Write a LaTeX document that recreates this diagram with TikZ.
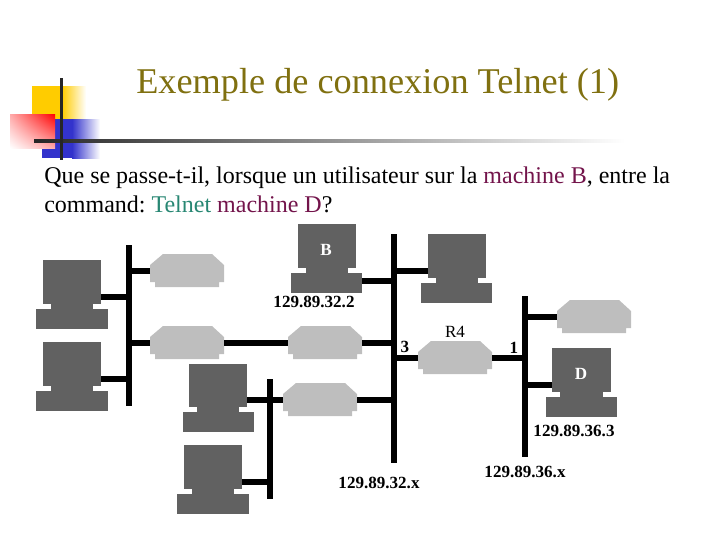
\documentclass[tikz,border=0pt]{standalone}
\usepackage{fontspec}
\usetikzlibrary{shadings}
\setmainfont{Liberation Serif}
\frenchspacing
\definecolor{titleol}{RGB}{128,112,16}
\definecolor{plum}{RGB}{115,20,75}
\definecolor{tealc}{RGB}{40,135,115}
\definecolor{compgray}{RGB}{97,97,97}
\definecolor{routgray}{RGB}{190,190,190}
\definecolor{decoyel}{RGB}{255,204,0}
\definecolor{decoblu}{RGB}{51,51,204}
\definecolor{decored}{RGB}{255,0,0}
\definecolor{decopink}{RGB}{255,170,170}
\tikzset{
  px/.style={x=0.75pt,y=-0.75pt},
  wire/.style={draw=black,line width=4.5pt},
  computer/.style={fill=compgray},
  router/.style={fill=routgray},
  lab/.style={font=\bfseries\fontsize{12.8}{15}\selectfont,inner sep=0pt},
  labw/.style={font=\bfseries\fontsize{12.8}{15}\selectfont,inner sep=0pt,text=white},
  ghost/.style={inner sep=0pt,outer sep=0pt,draw=none}
}
\newcommand{\compu}[8]{% name, monitor l,r,t,b ; base l,r,b
  \fill[computer] (#2,#4) rectangle (#3,#5);
  \fill[computer] ({#2+8},#5) rectangle ({#3-8},{#5+5});
  \fill[computer] (#6,{#5+5}) rectangle (#7,#8);
}
\newcommand{\rout}[3]{% name, left, top
  \fill[router] ({#2+13},#3) -- ({#2+62},#3) -- ({#2+74},{#3+11}) -- ({#2+74},{#3+28}) -- ({#2+69},{#3+28}) -- ({#2+69},{#3+33}) -- ({#2+5},{#3+33}) -- ({#2+5},{#3+28}) -- ({#2},{#3+28}) -- ({#2},{#3+11}) -- cycle;
  \node[ghost,minimum width=55.5pt,minimum height=25.5pt] (#1) at ({#2+37},{#3+17}) {};
}
\begin{document}
\begin{tikzpicture}[px]
\useasboundingbox (0,0) rectangle (720,540);
% decoration
\fill[decoyel] (32,86) rectangle (62,119);
\shade[left color=decoyel,right color=white] (62,86) rectangle (86,119);
\fill[decoblu] (42,119) rectangle (72,158);
\shade[left color=decoblu,right color=white] (72,119) rectangle (100,158);
\shade[shading=bilinear interpolation,lower left=white,lower right=decopink,upper left=decopink,upper right=decored] (10,148) rectangle (55,114);
\shade[left color=black!85,right color=white] (34,139.5) rectangle (625,142.5);
\fill[black!85] (59.5,78) rectangle (62.5,160);
% title and body
\node[anchor=base west,inner sep=0pt,text=titleol,font=\fontsize{27.2}{32}\selectfont] (title) at (136,93) {Exemple de connexion Telnet (1)};
\node[anchor=base west,inner sep=0pt,font=\fontsize{18}{22}\selectfont] (l1) at (44,183) {Que se passe-t-il, lorsque un utilisateur sur la \textcolor{plum}{machine B}, entre la};
\node[anchor=base west,inner sep=0pt,font=\fontsize{18}{22}\selectfont] (l2) at (44,212) {command: \textcolor{tealc}{Telnet} \textcolor{plum}{machine D}?};
% computers
\compu{c1}{43}{101}{260}{304}{36}{108}{329}
\compu{c2}{43}{101}{342}{386}{36}{108}{411}
\compu{c3}{189}{247}{364}{407}{183}{254}{432}
\compu{c4}{184}{242}{445}{489}{177}{249}{514}
\compu{cB}{298}{356}{224}{268}{291}{362}{293}
\compu{cT}{428}{486}{234}{278}{421}{492}{303}
\compu{cD}{552}{611}{348}{392}{546}{617}{417}
% routers
\rout{r1}{150}{254}
\rout{r2}{150}{326}
\rout{r3}{288}{326}
\rout{r4}{283}{383}
\rout{r5}{418}{341}
\rout{r6}{557}{300}
% bus ends and computer ports
\coordinate (b1t) at (129,245); \coordinate (b1b) at (129,406);
\coordinate (b2t) at (270,379); \coordinate (b2b) at (270,499);
\coordinate (b3t) at (394,234); \coordinate (b3b) at (394,463);
\coordinate (b4t) at (525,296); \coordinate (b4b) at (525,457);
\coordinate (p1) at (101,297);
\coordinate (p2) at (101,379);
\coordinate (p3) at (247,400);
\coordinate (p4) at (242,482);
\coordinate (pB) at (362,281);
\coordinate (pT) at (428,271);
\coordinate (pD) at (552,385);
% wires
\draw[wire] (b1t) -- (b1b);
\draw[wire] (b2t) -- (b2b);
\draw[wire] (b3t) -- (b3b);
\draw[wire] (b4t) -- (b4b);
\draw[wire] (p1) -- (p1 -| b1t);
\draw[wire] (p2) -- (p2 -| b1t);
\draw[wire] (r1.west) -- (r1.west -| b1t);
\draw[wire] (r2.west) -- (r2.west -| b1t);
\draw[wire] (r2.east) -- (r3.west);
\draw[wire] (r3.east) -- (r3.east -| b3t);
\draw[wire] (p3) -- (r4.west);
\draw[wire] (r4.east) -- (r4.east -| b3t);
\draw[wire] (p4) -- (p4 -| b2t);
\draw[wire] (pB) -- (pB -| b3t);
\draw[wire] (pT) -- (pT -| b3t);
\draw[wire] (r5.west) -- (r5.west -| b3t);
\draw[wire] (r5.east) -- (r5.east -| b4t);
\draw[wire] (r6.west) -- (r6.west -| b4t);
\draw[wire] (pD) -- (pD -| b4t);
% labels
\node[labw] (tB) at (326,250) {B};
\node[labw] (tD) at (581,374) {D};
\node[lab] (t1) at (314,302) {129.89.32.2};
\node[lab] (t2) at (405,347) {3};
\node[inner sep=0pt,font=\fontsize{12.8}{15}\selectfont] (t3) at (455,332) {R4};
\node[lab] (t4) at (514,348) {1};
\node[lab] (t5) at (574,431) {129.89.36.3};
\node[lab] (t6) at (379,483) {129.89.32.x};
\node[lab] (t7) at (525,472) {129.89.36.x};
\end{tikzpicture}
\end{document}
